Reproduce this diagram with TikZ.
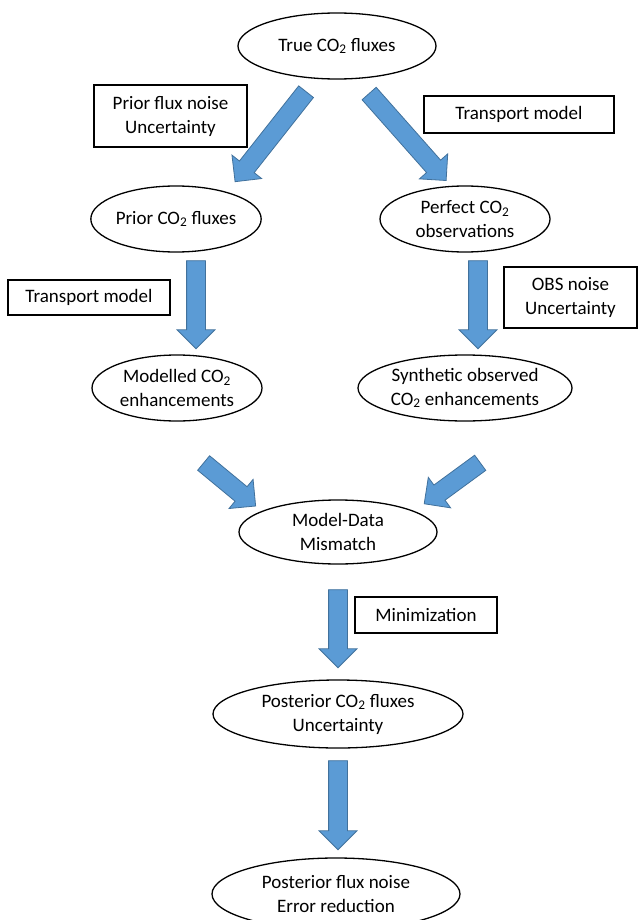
\documentclass[tikz,border=0pt]{standalone}
\usepackage{fontspec}
\setmainfont{Carlito}
\usetikzlibrary{shapes.geometric, shapes.arrows, calc}
\definecolor{arrfill}{HTML}{5B9BD5}
\definecolor{arrline}{HTML}{41719C}
\tikzset{
  every node/.style = {font=\fontsize{19}{24}\selectfont, align=center},
  oval/.style       = {ellipse, draw, line width=1.3pt, inner sep=0pt},
  note/.style       = {rectangle, draw, line width=1.3pt, inner sep=0pt},
  blkarrow/.style   = {single arrow, draw=arrline, fill=arrfill, line width=0.8pt,
                       inner xsep=0pt, inner ysep=9pt, minimum width=37pt,
                       single arrow head extend=9.5pt, single arrow tip angle=90},
}
\newcommand{\co}{CO\textsubscript{2}}
\newcommand{\fatarrow}[2]{%
  \path let \p1=($(#2)-(#1)$), \n1={atan2(\y1,\x1)}, \n2={veclen(\x1,\y1)} in
    node[blkarrow, rotate=\n1, minimum height=\n2] at ($(#1)!0.5!(#2)$) {};}

\begin{document}
\begin{tikzpicture}[x=1pt, y=-1pt]
\useasboundingbox (0,0) rectangle (644,920);

% ovals
\node[oval, minimum width=198pt, minimum height=66pt] (true)  at (337,46)  {True \co{} fluxes};
\node[oval, minimum width=167pt, minimum height=66pt] (prior) at (176,219) {Prior \co{} fluxes};
\node[oval, minimum width=170pt, minimum height=66pt] (perf)  at (465,219) {Perfect \co\\observations};
\node[oval, minimum width=170pt, minimum height=66pt] (modl)  at (177,388) {Modelled \co\\enhancements};
\node[oval, minimum width=214pt, minimum height=66pt] (synth) at (465,388) {Synthetic observed\\\co{} enhancements};
\node[oval, minimum width=198pt, minimum height=64pt] (mism)  at (338,532) {Model-Data\\Mismatch};
\node[oval, minimum width=250pt, minimum height=68pt] (post)  at (338,714) {Posterior \co{} fluxes\\Uncertainty};
\node[oval, minimum width=248pt, minimum height=72pt] (final) at (336,894) {Posterior flux noise\\Error reduction};

% boxes
\node[note, minimum width=153pt, minimum height=62pt] (bprior) at (170.5,116) {Prior flux noise\\Uncertainty};
\node[note, minimum width=190pt, minimum height=37pt] (btr1)   at (519,114.5) {Transport model};
\node[note, minimum width=162pt, minimum height=35pt] (btr2)   at (89,297.5)  {Transport model};
\node[note, minimum width=133pt, minimum height=61pt] (bobs)   at (570.5,297.5) {OBS noise\\Uncertainty};
\node[note, minimum width=142pt, minimum height=36pt] (bmin)   at (426,615)   {Minimization};

% arrow ends
\foreach \n/\x/\y in {t1/309/88, h1/238/178, t2/366/90, h2/443/177,
                      t3/196/256, h3/196/344, t4/478/256, h4/478/344,
                      t5/200/460, h5/252/503, t6/484/460, h6/428/501,
                      t7/338/585, h7/338/663, t8/338/756, h8/338/845}
  {\coordinate (\n) at (\x,\y);}

\foreach \a/\b in {t1/h1, t2/h2, t3/h3, t4/h4, t5/h5, t6/h6, t7/h7, t8/h8}
  {\fatarrow{\a}{\b}}
\end{tikzpicture}
\end{document}
